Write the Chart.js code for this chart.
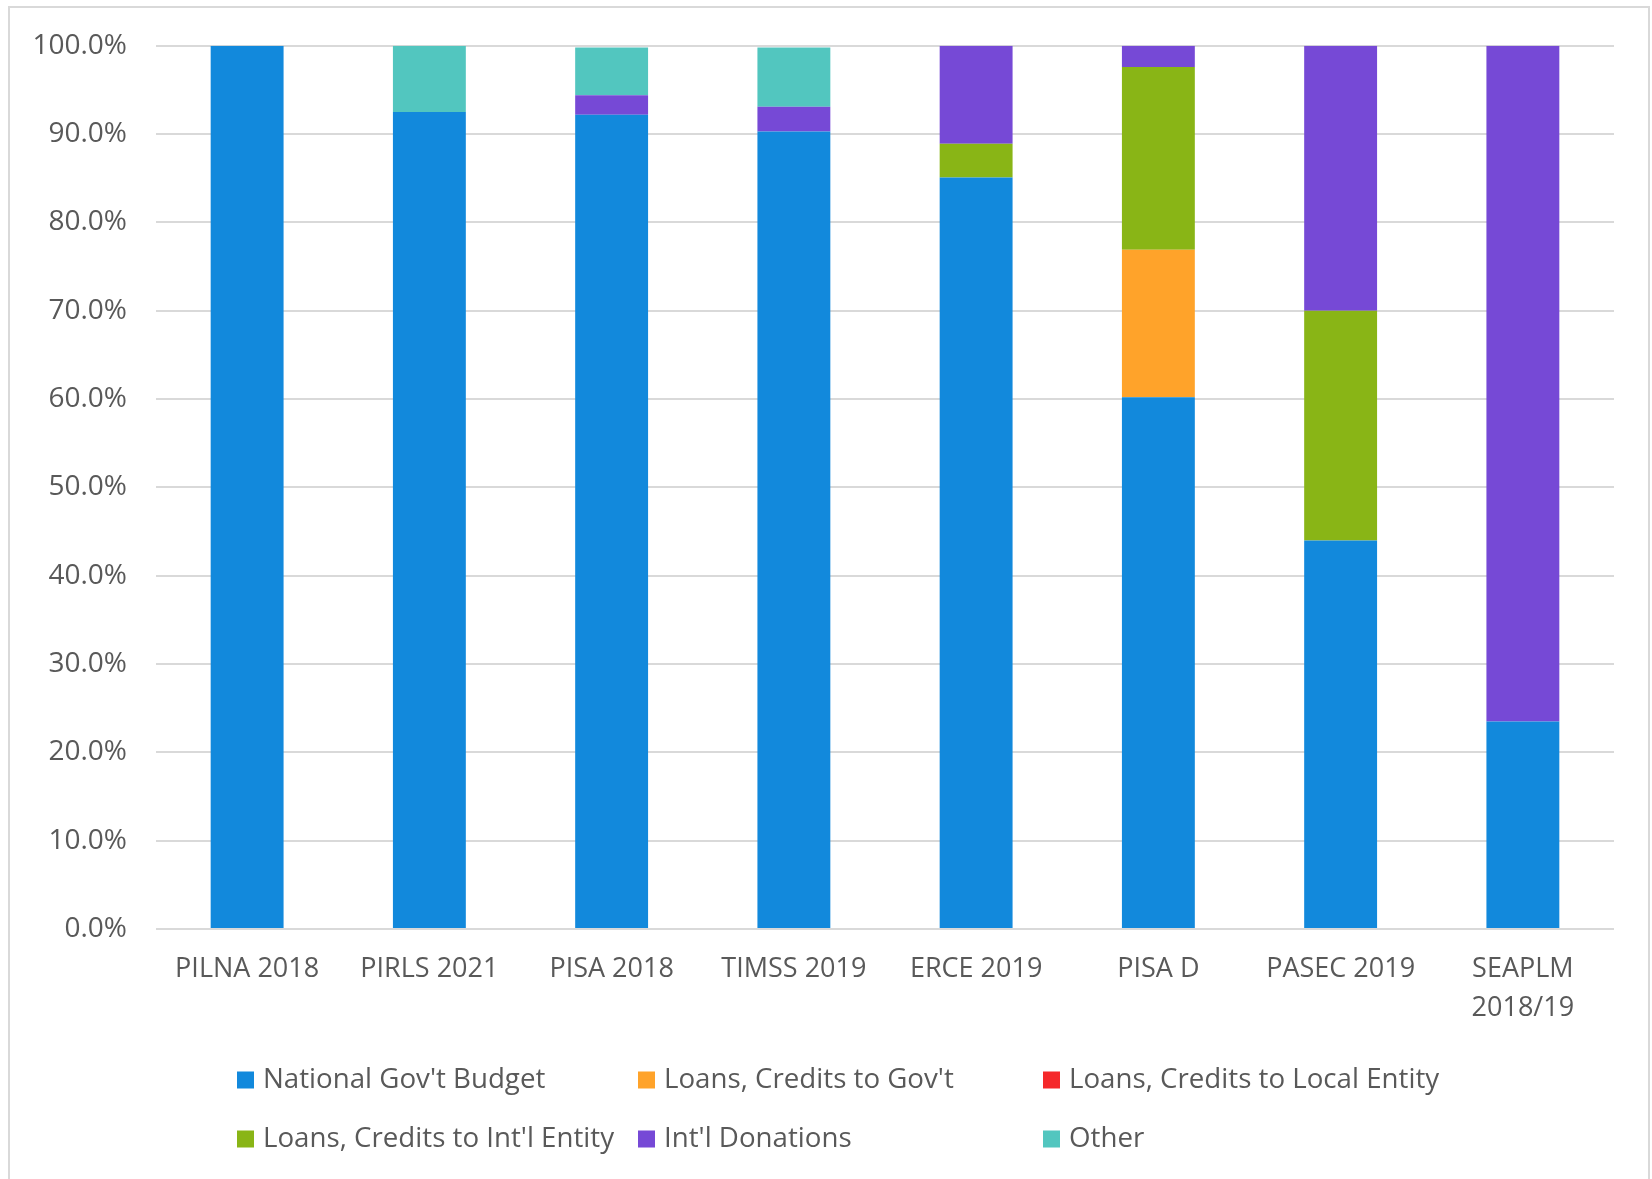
<!DOCTYPE html>
<html>
<head>
<meta charset="utf-8">
<script src="https://cdn.jsdelivr.net/npm/chart.js@4.4.1/dist/chart.umd.min.js"></script>
<style>
  html, body { margin: 0; padding: 0; background: #fff; }
  canvas { display: block; }
</style>
</head>
<body>
<canvas id="c" width="1652" height="1179"></canvas>
<script>
// ---- Data ----
const categories = ['PILNA 2018', 'PIRLS 2021', 'PISA 2018', 'TIMSS 2019', 'ERCE 2019', 'PISA D', 'PASEC 2019', ['SEAPLM', '2018/19']];
const seriesNames = ["National Gov't Budget", "Loans, Credits to Gov't", "Loans, Credits to Local Entity", "Loans, Credits to Int'l Entity", "Int'l Donations", "Other"];
const nationalBudget   = [100.0, 92.5, 92.2, 90.3, 85.1, 60.2, 44.0, 23.5];
const loansGov         = [0, 0, 0, 0, 0, 16.7, 0, 0];
const loansLocal       = [0, 0, 0, 0, 0, 0, 0, 0];
const loansIntlEntity  = [0, 0, 0, 0, 3.8, 20.7, 26.0, 0];
const intlDonations    = [0, 0, 2.2, 2.8, 11.1, 2.4, 30.0, 76.5];
const other            = [0, 7.5, 5.4, 6.7, 0, 0, 0, 0];
const yTicks = [0, 10, 20, 30, 40, 50, 60, 70, 80, 90, 100];

const seriesValues = [nationalBudget, loansGov, loansLocal, loansIntlEntity, intlDonations, other];
const colors = ['#1289DC', '#FFA32A', '#F5282A', '#89B516', '#7649D6', '#52C6BF'];

const FONT = '"Open Sans", sans-serif';
const TEXT = '#595959';

const frame = {
  id: 'frame',
  beforeDraw(chart) {
    const ctx = chart.ctx;
    ctx.save();
    ctx.fillStyle = '#fff';
    ctx.fillRect(0, 0, chart.width, chart.height);
    ctx.strokeStyle = '#d9d9d9';
    ctx.lineWidth = 2;
    ctx.strokeRect(9, 7, 1640, 1190);
    ctx.restore();
  }
};

const gridLegend = {
  id: 'gridLegend',
  afterDraw(chart) {
    const ctx = chart.ctx;
    const colX = [237, 638, 1043];
    const rowY = [1080, 1139];
    ctx.save();
    ctx.font = '27.7px ' + FONT;
    ctx.textBaseline = 'middle';
    ctx.textAlign = 'left';
    chart.data.datasets.forEach((ds, i) => {
      const x = colX[i % 3];
      const y = rowY[Math.floor(i / 3)];
      ctx.fillStyle = ds.backgroundColor;
      ctx.fillRect(x, y - 8.5, 17, 17);
      ctx.fillStyle = TEXT;
      ctx.fillText(ds.label, x + 26, y);
    });
    ctx.restore();
  }
};

new Chart(document.getElementById('c'), {
  type: 'bar',
  data: {
    labels: categories,
    datasets: seriesNames.map((name, i) => ({
      label: name,
      data: seriesValues[i],
      backgroundColor: colors[i],
      borderWidth: 0,
      categoryPercentage: 1.0,
      barPercentage: 0.4
    }))
  },
  options: {
    responsive: false,
    animation: false,
    devicePixelRatio: 1,
    layout: { padding: { left: 10, right: 38, top: 45, bottom: 140 } },
    plugins: {
      legend: { display: false },
      tooltip: { enabled: false }
    },
    scales: {
      x: {
        stacked: true,
        grid: { display: false, drawTicks: false },
        border: { display: false },
        ticks: {
          color: TEXT,
          font: { family: FONT, size: 27, lineHeight: 1.444 },
          padding: 21,
          maxRotation: 0,
          autoSkip: false
        },
        afterFit(s) { s.height = 110; }
      },
      y: {
        stacked: true,
        min: 0,
        max: 100,
        afterBuildTicks(s) { s.ticks = yTicks.map(v => ({ value: v })); },
        grid: { color: '#d9d9d9', lineWidth: 2, drawTicks: false },
        border: { display: false },
        ticks: {
          color: TEXT,
          font: { family: FONT, size: 28 },
          padding: 29,
          callback: v => v.toFixed(1) + '%'
        },
        afterFit(s) { s.width = 146; }
      }
    }
  },
  plugins: [frame, gridLegend]
});
</script>
</body>
</html>
